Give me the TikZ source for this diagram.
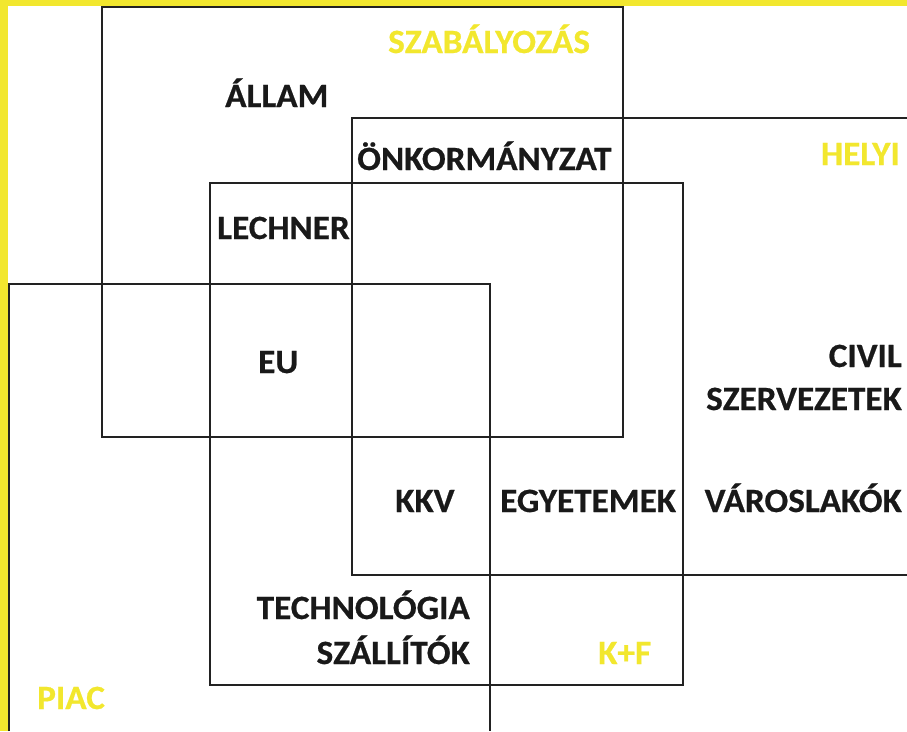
\documentclass[tikz,border=0pt]{standalone}
\usepackage{fontspec}
\setmainfont{Carlito}[FakeStretch=1.035, BoldFeatures={FakeBold=0.6}]

\definecolor{fieldyellow}{HTML}{F2E72E}
\definecolor{boxline}{HTML}{222222}

\tikzset{
  box/.style={draw=boxline, line width=2.6pt},
  actor/.style={font=\fontsize{34}{43}\selectfont\bfseries, text=black!90, inner sep=0pt},
  field/.style={actor, text=fieldyellow},
}

\begin{document}
\begin{tikzpicture}[x=1pt,y=-1pt]
\useasboundingbox (0,0) rectangle (907,731);
\fill[white] (0,0) rectangle (907,731);
% yellow frame on the left and top
\fill[fieldyellow] (0,0) rectangle (8,731);
\fill[fieldyellow] (0,0) rectangle (907,6);

% the four fields
\draw[box] (102,7) rectangle (623,437);
\draw[box] (907,118) -- (352,118) -- (352,575) -- (907,575);
\draw[box] (210,183) rectangle (683,685);
\draw[box] (9,731) -- (9,284) -- (490,284) -- (490,731);

% field names
\node[field, anchor=base west] (szabalyozas) at (388,53) {SZABÁLYOZÁS};
\node[field, anchor=base east] (helyi) at (900,165) {HELYI};
\node[field, anchor=base west] (kf) at (598,664) {K+F};
\node[field, anchor=base west] (piac) at (37,709) {PIAC};

% actors
\node[actor, anchor=base west] (allam) at (225,107) {ÁLLAM};
\node[actor, anchor=base west] (onkorm) at (357,170) {ÖNKORMÁNYZAT};
\node[actor, anchor=base west] (lechner) at (217,239) {LECHNER};
\node[actor, anchor=base west] (eu) at (258,373) {EU};
\node[actor, anchor=base east, align=right] (civil) at (902,410) {CIVIL\\SZERVEZETEK};
\node[actor, anchor=base east] (varoslakok) at (902,512) {VÁROSLAKÓK};
\node[actor, anchor=base west] (kkv) at (395,512) {KKV};
\node[actor, anchor=base west] (egyetemek) at (500,512) {EGYETEMEK};
\node[actor, anchor=base east, align=right, font=\fontsize{34}{45}\selectfont\bfseries] (techno) at (470,664) {TECHNOLÓGIA\\SZÁLLÍTÓK};
\end{tikzpicture}
\end{document}
